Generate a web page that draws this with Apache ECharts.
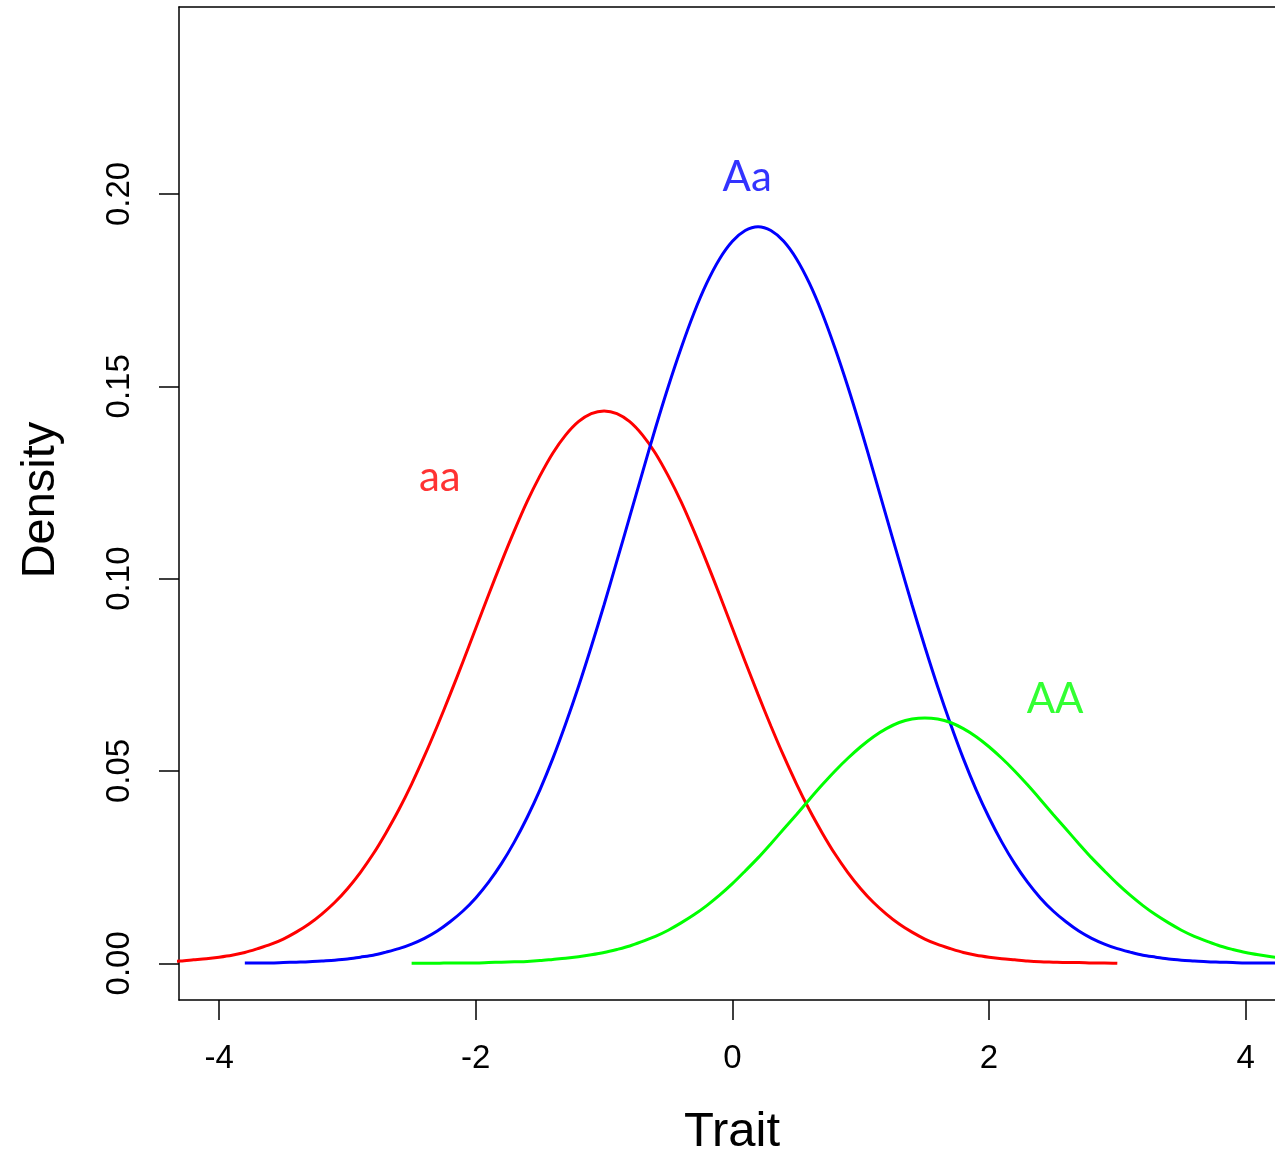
<!DOCTYPE html>
<html>
<head>
<meta charset="utf-8">
<script src="https://cdn.jsdelivr.net/npm/echarts@6/dist/echarts.min.js"></script>
<style>
  html, body { margin: 0; padding: 0; background: #fff; }
  #chart { width: 1275px; height: 1152px; }
</style>
</head>
<body>
<div id="chart"></div>
<script>
// trait values, step 0.1 from -4.4 to 4.5
var traitX = [
  -4.4, -4.3, -4.2, -4.1, -4.0, -3.9, -3.8, -3.7, -3.6, -3.5,
  -3.4, -3.3, -3.2, -3.1, -3.0, -2.9, -2.8, -2.7, -2.6, -2.5,
  -2.4, -2.3, -2.2, -2.1, -2.0, -1.9, -1.8, -1.7, -1.6, -1.5,
  -1.4, -1.3, -1.2, -1.1, -1.0, -0.9, -0.8, -0.7, -0.6, -0.5,
  -0.4, -0.3, -0.2, -0.1, 0.0, 0.1, 0.2, 0.3, 0.4, 0.5,
  0.6, 0.7, 0.8, 0.9, 1.0, 1.1, 1.2, 1.3, 1.4, 1.5,
  1.6, 1.7, 1.8, 1.9, 2.0, 2.1, 2.2, 2.3, 2.4, 2.5,
  2.6, 2.7, 2.8, 2.9, 3.0, 3.1, 3.2, 3.3, 3.4, 3.5,
  3.6, 3.7, 3.8, 3.9, 4.0, 4.1, 4.2, 4.3, 4.4, 4.5
];
// density of each genotype at those trait values
var aaY = [
  0.0004, 0.0006, 0.0009, 0.0012, 0.0016, 0.0021, 0.0028, 0.0038, 0.0049, 0.0063,
  0.0081, 0.0102, 0.0128, 0.0158, 0.0194, 0.0236, 0.0284, 0.0339, 0.0399, 0.0466,
  0.0539, 0.0617, 0.0699, 0.0784, 0.0871, 0.0958, 0.1043, 0.1124, 0.1200, 0.1267,
  0.1326, 0.1373, 0.1408, 0.1429, 0.1436, 0.1429, 0.1408, 0.1373, 0.1326, 0.1267,
  0.1200, 0.1124, 0.1043, 0.0958, 0.0871, 0.0784, 0.0699, 0.0617, 0.0539, 0.0466,
  0.0399, 0.0339, 0.0284, 0.0236, 0.0194, 0.0158, 0.0128, 0.0102, 0.0081, 0.0063,
  0.0049, 0.0038, 0.0028, 0.0021, 0.0016, 0.0012, 0.0009, 0.0006, 0.0004, 0.0003,
  0.0002, 0.0002, 0.0001, 0.0001, 0.0000, null, null, null, null, null,
  null, null, null, null, null, null, null, null, null, null
];
var AaY = [
  null, null, null, null, null, null, 0.0001, 0.0001, 0.0001, 0.0002,
  0.0003, 0.0004, 0.0006, 0.0008, 0.0011, 0.0016, 0.0021, 0.0029, 0.0038, 0.0050,
  0.0065, 0.0084, 0.0108, 0.0136, 0.0170, 0.0211, 0.0259, 0.0315, 0.0379, 0.0451,
  0.0532, 0.0622, 0.0719, 0.0823, 0.0932, 0.1046, 0.1161, 0.1277, 0.1391, 0.1499,
  0.1599, 0.1690, 0.1768, 0.1831, 0.1877, 0.1905, 0.1915, 0.1905, 0.1877, 0.1831,
  0.1768, 0.1690, 0.1599, 0.1499, 0.1391, 0.1277, 0.1161, 0.1046, 0.0932, 0.0823,
  0.0719, 0.0622, 0.0532, 0.0451, 0.0379, 0.0315, 0.0259, 0.0211, 0.0170, 0.0136,
  0.0108, 0.0084, 0.0065, 0.0050, 0.0038, 0.0029, 0.0021, 0.0016, 0.0011, 0.0008,
  0.0006, 0.0004, 0.0003, 0.0002, 0.0001, 0.0001, 0.0001, 0.0000, 0.0000, 0.0000
];
var AAY = [
  null, null, null, null, null, null, null, null, null, null,
  null, null, null, null, null, null, null, null, null, 0.0000,
  0.0000, 0.0000, 0.0001, 0.0001, 0.0001, 0.0002, 0.0003, 0.0004, 0.0005, 0.0007,
  0.0010, 0.0013, 0.0017, 0.0022, 0.0028, 0.0036, 0.0045, 0.0057, 0.0070, 0.0086,
  0.0105, 0.0126, 0.0150, 0.0177, 0.0207, 0.0240, 0.0274, 0.0311, 0.0349, 0.0387,
  0.0426, 0.0464, 0.0500, 0.0533, 0.0563, 0.0589, 0.0610, 0.0626, 0.0635, 0.0638,
  0.0635, 0.0626, 0.0610, 0.0589, 0.0563, 0.0533, 0.0500, 0.0464, 0.0426, 0.0387,
  0.0349, 0.0311, 0.0274, 0.0240, 0.0207, 0.0177, 0.0150, 0.0126, 0.0105, 0.0086,
  0.0070, 0.0057, 0.0045, 0.0036, 0.0028, 0.0022, 0.0017, 0.0013, 0.0010, 0.0007
];

var xTicks = [-4, -2, 0, 2, 4];
var yTicks = [0, 0.05, 0.10, 0.15, 0.20];

// curve labels
var labelText = ['aa', 'Aa', 'AA'];
var labelX = [-2.28, 0.115, 2.515];
var labelY = [0.1262, 0.2044, 0.0685];
var colors = ['#ff0000', '#0000ff', '#00ff00'];

function pairs(ys) {
  var out = [];
  ys.forEach(function (y, i) {
    if (y !== null) out.push([traitX[i], y]);
  });
  return out;
}

var myChart = echarts.init(document.getElementById('chart'));

var series = [aaY, AaY, AAY].map(function (ys, i) {
  return {
    name: labelText[i],
    type: 'line',
    data: pairs(ys),
    smooth: 0.3,
    showSymbol: false,
    clip: true,
    lineStyle: { color: colors[i], width: 3 },
    silent: true
  };
});

labelText.forEach(function (t, i) {
  series.push({
    type: 'scatter',
    data: [[labelX[i], labelY[i]]],
    symbolSize: 1,
    itemStyle: { color: 'rgba(0,0,0,0)' },
    label: {
      show: true,
      position: 'inside',
      formatter: t,
      color: colors[i],
      fontFamily: 'Lato',
      fontSize: 42
    },
    silent: true
  });
});

myChart.setOption({
  animation: false,
  grid: { left: 179, top: 7, right: 0, bottom: 152 },
  xAxis: [
    {
      type: 'value',
      min: -4.313,
      max: 4.229,
      position: 'bottom',
      splitLine: { show: false },
      axisLine: { show: true, onZero: false, lineStyle: { color: '#000', width: 1.5 } },
      axisTick: { show: true, inside: false, length: 20, customValues: xTicks, lineStyle: { color: '#000', width: 1.5 } },
      axisLabel: {
        customValues: xTicks,
        margin: 42,
        color: '#000',
        fontFamily: 'Liberation Sans',
        fontSize: 33
      }
    },
    {
      type: 'value',
      min: -4.313,
      max: 4.229,
      position: 'top',
      splitLine: { show: false },
      axisLine: { show: true, onZero: false, lineStyle: { color: '#000', width: 1.5 } },
      axisTick: { show: false },
      axisLabel: { show: false }
    }
  ],
  yAxis: {
    type: 'value',
    min: -0.00954,
    max: 0.2486,
    splitLine: { show: false },
    axisLine: { show: true, onZero: false, lineStyle: { color: '#000', width: 1.5 } },
    axisTick: { show: true, inside: false, length: 20, customValues: yTicks, lineStyle: { color: '#000', width: 1.5 } },
    axisLabel: {
      customValues: yTicks,
      rotate: 90,
      margin: 43,
      color: '#000',
      fontFamily: 'Liberation Sans',
      fontSize: 33,
      formatter: function (v) { return v.toFixed(2); }
    }
  },
  graphic: [
    {
      type: 'text',
      x: 732,
      y: 1108,
      style: {
        text: 'Trait',
        font: '49px "Liberation Sans"',
        fill: '#000',
        align: 'center',
        verticalAlign: 'top'
      }
    },
    {
      type: 'text',
      x: 18,
      y: 500,
      rotation: Math.PI / 2,
      style: {
        text: 'Density',
        font: '47px "Liberation Sans"',
        fill: '#000',
        align: 'center',
        verticalAlign: 'top'
      }
    }
  ],
  series: series
});
</script>
</body>
</html>
